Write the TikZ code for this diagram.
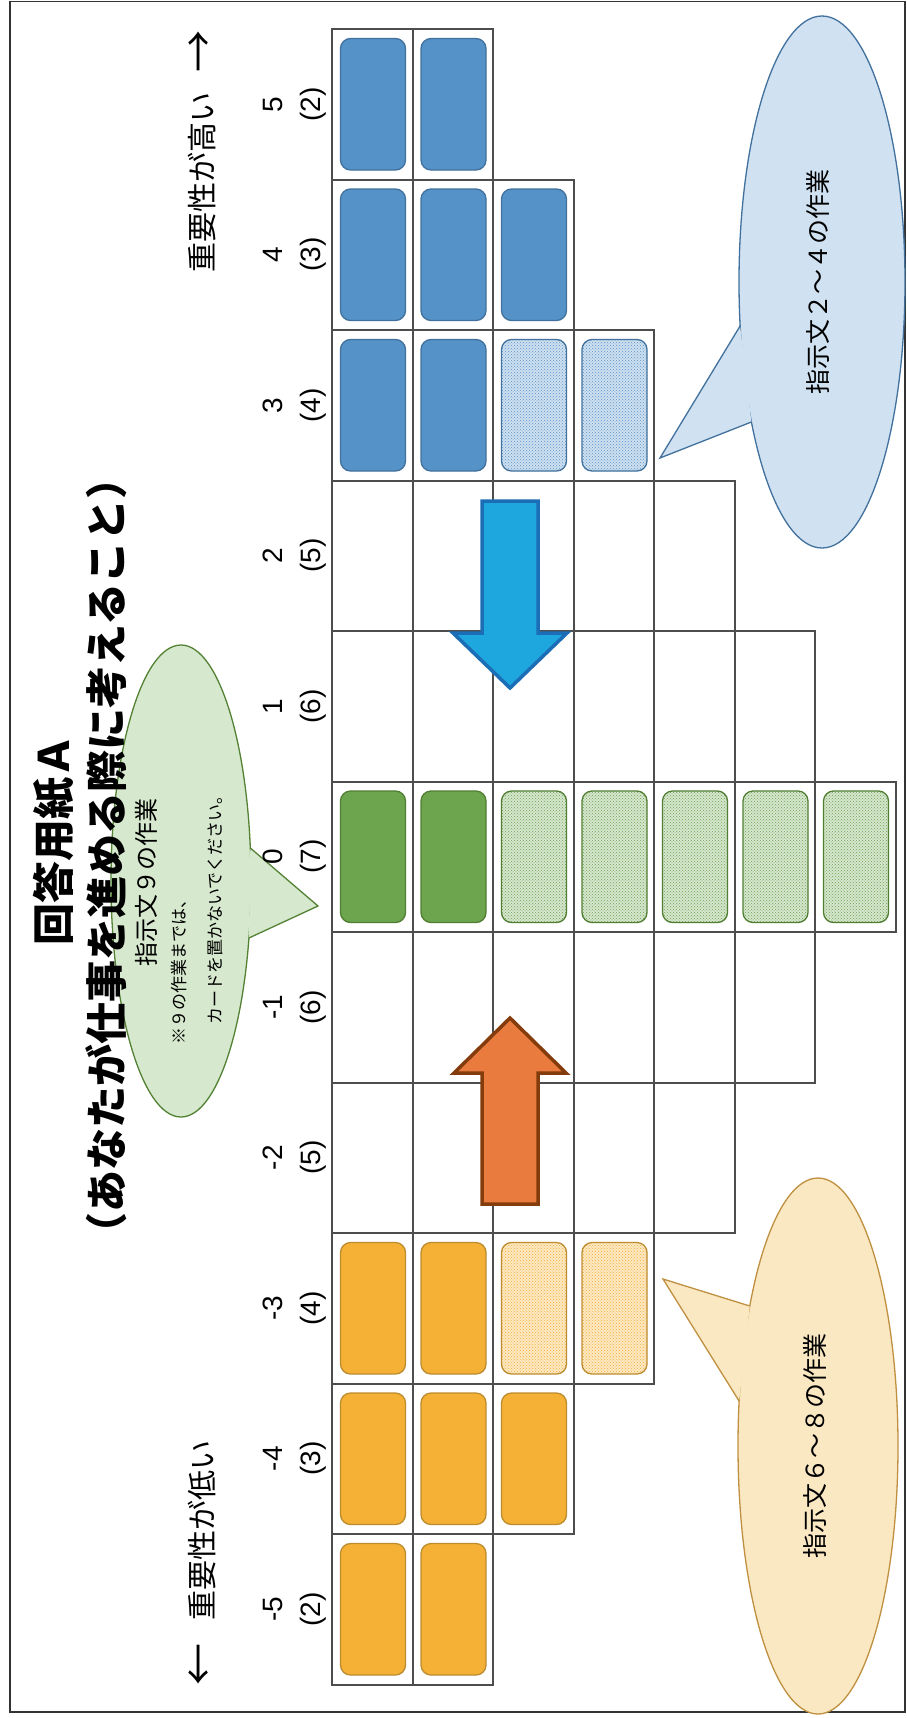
\documentclass[tikz,border=0pt]{standalone}
\usepackage{fontspec}
\setmainfont{Liberation Sans}
\newfontfamily\jp{Noto Sans CJK JP}
\usetikzlibrary{patterns}
\definecolor{gridc}{HTML}{4D4D4D}
\definecolor{bluefill}{HTML}{5592C8}
\definecolor{blueedge}{HTML}{41719C}
\definecolor{orangefill}{HTML}{F4B136}
\definecolor{orangeedge}{HTML}{BC8C2E}
\definecolor{greenfill}{HTML}{6DA54F}
\definecolor{greenedge}{HTML}{507E32}
\definecolor{bbfill}{HTML}{D0E1F1}
\definecolor{bbedge}{HTML}{41719C}
\definecolor{gbfill}{HTML}{D6E8CD}
\definecolor{gbedge}{HTML}{548235}
\definecolor{ybfill}{HTML}{FAE8C3}
\definecolor{ybedge}{HTML}{BF9040}
\definecolor{arrblue}{HTML}{1EA6DF}
\definecolor{arrblueedge}{HTML}{1B6DB5}
\definecolor{arrorange}{HTML}{E97B3F}
\definecolor{arrorangeedge}{HTML}{843C0C}
\newcommand\placecard[3]{%
  \pgfmathsetmacro\cxa{332+80.5*(#2-1)+8.5}%
  \pgfmathsetmacro\cxb{332+80.5*#2-7}%
  \pgfmathsetmacro\cya{29+150.5*#1+9.5}%
  \pgfmathsetmacro\cyb{29+150.5*(#1+1)-9.5}%
  \draw[#3] (\cxa,\cya) rectangle (\cxb,\cyb);}
\begin{document}
\begin{tikzpicture}[x=1pt,y=-1pt,
  gridcell/.style={draw=gridc, line width=2pt},
  card/.style={rounded corners=10pt, line width=1.3pt},
  cardB/.style={card, fill=bluefill, draw=blueedge},
  cardBp/.style={card, preaction={fill=bluefill!28}, pattern=crosshatch dots, pattern color=bluefill, draw=blueedge},
  cardG/.style={card, fill=greenfill, draw=greenedge},
  cardGp/.style={card, preaction={fill=greenfill!28}, pattern=crosshatch dots, pattern color=greenfill, draw=greenedge},
  cardO/.style={card, fill=orangefill, draw=orangeedge},
  cardOp/.style={card, preaction={fill=orangefill!30}, pattern=crosshatch dots, pattern color=orangefill, draw=orangeedge},
  lab/.style={rotate=90, inner sep=0pt, font=\fontsize{28}{32}\selectfont},
  side/.style={rotate=90, inner sep=0pt, anchor=west, font=\jp\fontsize{30}{34}\selectfont},
  sidearrow/.style={rotate=90, inner sep=0pt, font=\jp\fontsize{42}{42}\selectfont},
  titl/.style={rotate=90, inner sep=0pt, font=\jp\bfseries\fontsize{42}{46}\selectfont},
  bubtext/.style={rotate=90, inner sep=0pt, font=\jp\fontsize{25}{30}\selectfont},
  smalltext/.style={rotate=90, inner sep=0pt, anchor=west, font=\jp\fontsize{17}{20}\selectfont},
  bubline/.style={line width=1.3pt, line join=miter},
  blockarrow/.style={line width=3.5pt, line join=miter}
]
\useasboundingbox (0,0) rectangle (907,1718);
\fill[white] (0,0) rectangle (907,1718);
\draw[line width=1.5pt, black!80] (10,1.5) rectangle (905,1712);

% grid
\foreach \k/\n in {0/2,1/3,2/4,3/5,4/6,5/7,6/6,7/5,8/4,9/3,10/2} {
  \foreach \j in {1,...,\n} {
    \draw[gridcell] ({332+80.5*(\j-1)},{29+150.5*\k}) rectangle ({332+80.5*\j},{29+150.5*(\k+1)});
  }
}

% cards
\placecard{0}{1}{cardB}\placecard{0}{2}{cardB}
\placecard{1}{1}{cardB}\placecard{1}{2}{cardB}\placecard{1}{3}{cardB}
\placecard{2}{1}{cardB}\placecard{2}{2}{cardB}\placecard{2}{3}{cardBp}\placecard{2}{4}{cardBp}
\placecard{5}{1}{cardG}\placecard{5}{2}{cardG}
\foreach \j in {3,...,7} {\placecard{5}{\j}{cardGp}}
\placecard{8}{1}{cardO}\placecard{8}{2}{cardO}\placecard{8}{3}{cardOp}\placecard{8}{4}{cardOp}
\placecard{9}{1}{cardO}\placecard{9}{2}{cardO}\placecard{9}{3}{cardO}
\placecard{10}{1}{cardO}\placecard{10}{2}{cardO}

% block arrows
\draw[blockarrow, fill=arrblue, draw=arrblueedge] (482,501) -- (538,501) -- (538,633) -- (567,633) -- (510,688) -- (453,633) -- (482,633) -- cycle;
\draw[blockarrow, fill=arrorange, draw=arrorangeedge] (510,1018) -- (566,1073) -- (538,1073) -- (538,1204) -- (482,1204) -- (482,1073) -- (454,1073) -- cycle;

% bubbles
\draw[bubline, fill=bbfill, draw=bbedge] (822,282) ellipse [x radius=83, y radius=266];
\fill[bbfill] (740.1,326) -- (660,458) -- (751.4,422) -- cycle;
\draw[bubline, draw=bbedge] (740.1,326) -- (660,458) -- (751.4,422);
\node[bubtext] (bluetext) at (818,282) {指示文２～４の作業};

\draw[bubline, fill=ybfill, draw=ybedge] (818,1446) ellipse [x radius=80, y radius=268];
\fill[ybfill] (749.8,1306) -- (663,1279) -- (739.1,1401) -- cycle;
\draw[bubline, draw=ybedge] (749.8,1306) -- (663,1279) -- (739.1,1401);
\node[bubtext] (yellowtext) at (815,1446) {指示文６～８の作業};

\draw[bubline, fill=gbfill, draw=gbedge] (181,881) ellipse [x radius=70, y radius=236];
\fill[gbfill] (250.3,848) -- (318,906) -- (248.9,938) -- cycle;
\draw[bubline, draw=gbedge] (250.3,848) -- (318,906) -- (248.9,938);
\node[bubtext, font=\jp\fontsize{24}{28}\selectfont] (greentext) at (146,882) {指示文９の作業};
\node[smalltext] (greennote1) at (179,1045) {※９の作業までは、};
\node[smalltext] (greennote2) at (215,1025) {カードを置かないでください。};

% column labels
\foreach \k/\a/\b in {0/5/2,1/4/3,2/3/4,3/2/5,4/1/6,5/0/7,6/-1/6,7/-2/5,8/-3/4,9/-4/3,10/-5/2} {
  \pgfmathsetmacro\yc{29+150.5*\k+75.25}
  \node[lab] (num\k) at (273,\yc) {\a};
  \node[lab] (cnt\k) at (313,\yc) {(\b)};
}

% side labels
\node[side] (high) at (202,273) {重要性が高い};
\node[sidearrow] (highArrow) at (202,52) {→};
\node[side] (low) at (202,1621) {重要性が低い};
\node[sidearrow] (lowArrow) at (202,1664) {←};

% title
\node[titl] (title1) at (54,840) {回答用紙Ａ};
\node[titl] (title2) at (106,856) {（あなたが仕事を進める際に考えること）};
\end{tikzpicture}
\end{document}
